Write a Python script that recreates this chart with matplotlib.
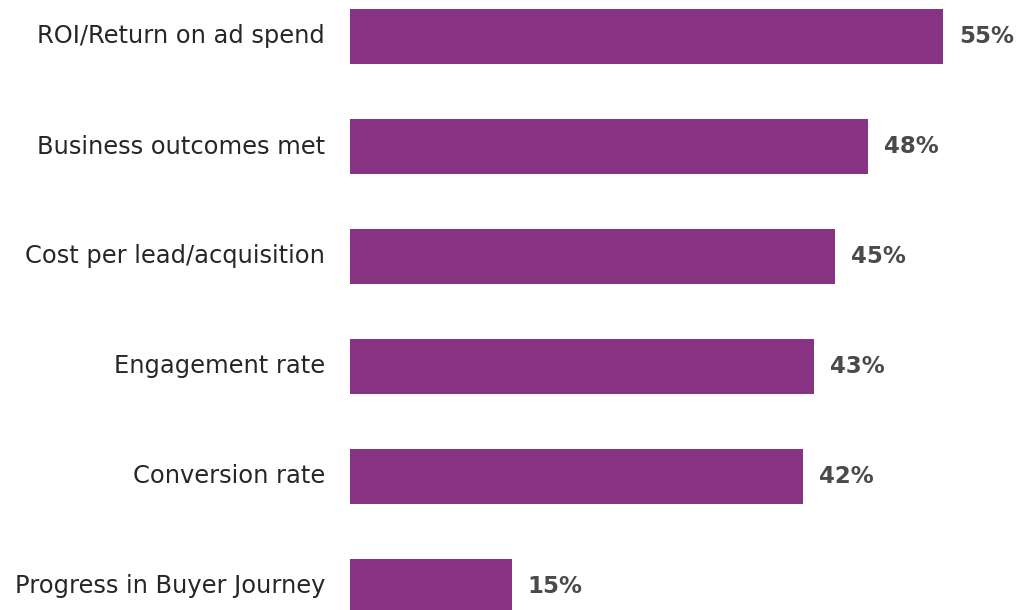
import matplotlib.pyplot as plt

# survey: how success is measured
metrics = ["ROI/Return on ad spend", "Business outcomes met", "Cost per lead/acquisition",
           "Engagement rate", "Conversion rate", "Progress in Buyer Journey"]
shares = [55, 48, 45, 43, 42, 15]

W, H = 1017, 610
fig = plt.figure(figsize=(W / 100, H / 100), dpi=100)

# axes starts where the bars start; scale is ~10.78 px per percent
px_per_pct = 593 / 55
ax = fig.add_axes([350 / W, 0, (W - 350) / W, 1])
ax.set_xlim(0, (W - 350) / px_per_pct)
ax.set_ylim(5 + (610 - 586.5) / 110, -36.5 / 110)

pos = list(range(len(metrics)))
ax.barh(pos, shares, height=0.495, color="#873282")

for y, v in zip(pos, shares):
    ax.text(v + 16 / px_per_pct, y, f"{v}%", va="center", ha="left",
            fontsize=16.5, fontweight="bold", color="#4a4a4c")

for y, name in zip(pos, metrics):
    ax.text(-25 / px_per_pct, y, name, va="center", ha="right",
            fontsize=17.4, color="#262626", clip_on=False)

ax.axis("off")
fig.savefig("out.png", dpi=100)
